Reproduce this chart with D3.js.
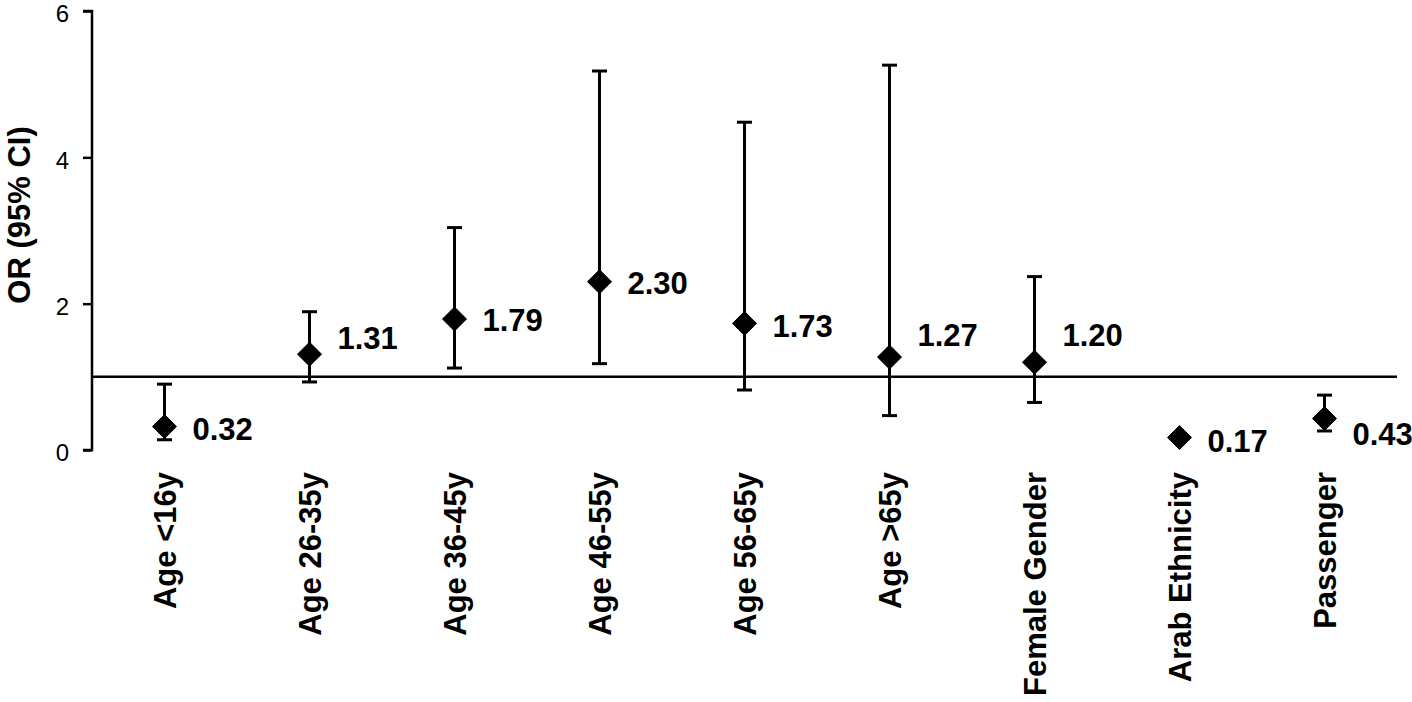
<!DOCTYPE html>
<html>
<head>
<meta charset="utf-8">
<script src="https://cdn.jsdelivr.net/npm/d3@7"></script>
<style>
  body { margin: 0; background: #fff; }
  svg { display: block; font-family: "Liberation Sans", Arial, Helvetica, sans-serif; }
  .tick text { font-size: 24px; fill: #000; }
  .bold { font-weight: bold; font-size: 31px; fill: #000; }
</style>
</head>
<body>
<svg class="chart"></svg>
<script>
//Chart data
const categories = ['Age <16y', 'Age 26-35y', 'Age 36-45y', 'Age 46-55y', 'Age 56-65y',
  'Age >65y', 'Female Gender', 'Arab Ethnicity', 'Passenger'];
const oddsRatios = [0.32, 1.31, 1.79, 2.30, 1.73, 1.27, 1.20, 0.17, 0.43];
const lowerCI = [0.14, 0.93, 1.12, 1.18, 0.82, 0.47, 0.65, 0.14, 0.26];
const upperCI = [0.90, 1.89, 3.04, 5.18, 4.48, 5.26, 2.37, 0.21, 0.75];
const yTicks = [0, 2, 4, 6];
const refValue = 1;
//label nudges (px) so labels sit like in the original
const labelShift = [2, -16, 1, 1, 2, -22, -27, 3, 15];

const width = 1412;
const height = 702;

const svg = d3.select('svg.chart')
  .attr('width', width)
  .attr('height', height);

let x = d3.scaleBand()
  .domain(categories)
  .range([92, 1397]);

let y = d3.scaleLinear()
  .domain([0, 6])
  .range([450, 11]);

//Y axis
let yAxis = svg.append('g')
  .attr('transform', 'translate(92,0)')
  .call(d3.axisLeft(y).tickValues(yTicks).tickFormat(d3.format('d')).tickSize(9).tickPadding(14));
yAxis.select('.domain')
  .attr('d', `M-9,${y(6)}H0V${y(0)}H-9`)
  .attr('stroke', '#000')
  .attr('stroke-width', 2.5);
yAxis.selectAll('.tick line').attr('stroke', '#000').attr('stroke-width', 2.5);
yAxis.selectAll('.tick text').attr('dy', '0.45em');

//Axis title
svg.append('text')
  .classed('bold', true)
  .attr('transform', 'translate(30,215) rotate(-90)')
  .attr('text-anchor', 'middle')
  .text('OR (95% CI)');

//Reference line at OR = 1
svg.append('line')
  .attr('x1', 92)
  .attr('x2', x.range()[1])
  .attr('y1', y(refValue))
  .attr('y2', y(refValue))
  .attr('stroke', '#000')
  .attr('stroke-width', 2.5);

const cx = d => x(d) + x.bandwidth() / 2;

//Error bars
let bars = svg.append('g')
  .selectAll('g')
  .data(categories)
  .enter()
  .append('g')
  .attr('stroke', '#000')
  .attr('stroke-width', 3);

bars.append('line')
  .attr('x1', cx).attr('x2', cx)
  .attr('y1', (d, i) => y(lowerCI[i]))
  .attr('y2', (d, i) => y(upperCI[i]));
bars.append('line')
  .attr('x1', d => cx(d) - 7.5).attr('x2', d => cx(d) + 7.5)
  .attr('y1', (d, i) => y(upperCI[i]))
  .attr('y2', (d, i) => y(upperCI[i]));
bars.append('line')
  .attr('x1', d => cx(d) - 7.5).attr('x2', d => cx(d) + 7.5)
  .attr('y1', (d, i) => y(lowerCI[i]))
  .attr('y2', (d, i) => y(lowerCI[i]));

//Diamonds
svg.append('g')
  .selectAll('path')
  .data(categories)
  .enter()
  .append('path')
  .attr('d', 'M0,-12L12,0L0,12L-12,0Z')
  .attr('fill', '#000')
  .attr('stroke', '#000')
  .attr('stroke-width', 1)
  .attr('stroke-linejoin', 'round')
  .attr('transform', (d, i) => `translate(${cx(d)},${y(oddsRatios[i])})`);

//Value labels
svg.append('g')
  .selectAll('text')
  .data(categories)
  .enter()
  .append('text')
  .classed('bold', true)
  .attr('x', d => cx(d) + 28)
  .attr('y', (d, i) => y(oddsRatios[i]) + labelShift[i])
  .attr('dy', '0.36em')
  .text((d, i) => oddsRatios[i].toFixed(2));

//Category labels
svg.append('g')
  .selectAll('text')
  .data(categories)
  .enter()
  .append('text')
  .classed('bold', true)
  .attr('text-anchor', 'end')
  .attr('transform', d => `translate(${cx(d)},472) rotate(-90)`)
  .attr('dy', '0.36em')
  .text(d => d);
</script>
</body>
</html>
